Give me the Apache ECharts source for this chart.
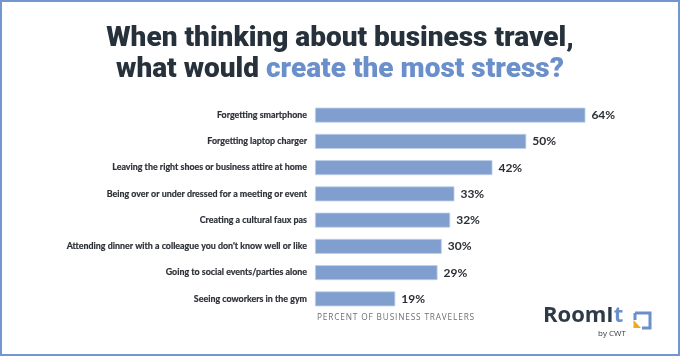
<!DOCTYPE html>
<html><head><meta charset="utf-8">
<script src="https://cdn.jsdelivr.net/npm/echarts@6/dist/echarts.min.js"></script>
<style>html,body{margin:0;padding:0;background:#fff}#c{width:680px;height:356px}</style>
</head><body><div id="c"></div>
<script>
const categories = [
  "Forgetting smartphone",
  "Forgetting laptop charger",
  "Leaving the right shoes or business attire at home",
  "Being over or under dressed for a meeting or event",
  "Creating a cultural faux pas",
  "Attending dinner with a colleague you don't know well or like",
  "Going to social events/parties alone",
  "Seeing coworkers in the gym"
];
const values = [64, 50, 42, 33, 32, 30, 29, 19];
const titleLine1 = "When thinking about business travel,";
const titleLine2a = "what would ";
const titleLine2b = "create the most stress?";
const axisTitle = "PERCENT OF BUSINESS TRAVELERS";

const chart = echarts.init(document.getElementById('c'), null, {renderer: 'canvas'});
const dark = '#26313c';
const blue = '#6a8fca';
const tfont = '900 28px Roboto';
chart.setOption({
  animation: false,
  backgroundColor: '#fff',
  grid: {left: 315, right: 27, top: 102, bottom: 44, containLabel: false},
  xAxis: {type: 'value', min: 0, max: 80, show: false},
  yAxis: {
    type: 'category', data: categories, inverse: true,
    axisLine: {show: false}, axisTick: {show: false},
    axisLabel: {color: '#2b2f35', fontFamily: 'Lato', fontWeight: 'bold', fontSize: 8.9, margin: 8,
      textBorderColor: '#2b2f35', textBorderWidth: 0.2}
  },
  series: [{
    type: 'bar', data: values, barCategoryGap: '43%',
    itemStyle: {color: '#809fcf', borderColor: '#bcd0ea', borderWidth: 0.8},
    label: {show: true, position: 'right', distance: 6, formatter: '{c}%',
      color: '#2b2f35', fontFamily: 'Lato', fontWeight: 'bold', fontSize: 12}
  }],
  graphic: [
    {type: 'rect', shape: {x: 1, y: 1, width: 678, height: 354}, style: {fill: 'none', stroke: '#7396d0', lineWidth: 2}},
    {type: 'text', left: 'center', top: 25, style: {text: titleLine1, font: tfont, fill: dark}},
    {type: 'text', left: 'center', top: 56, style: {rich: {a: {font: tfont, fill: dark}, b: {font: tfont, fill: blue}},
        text: '{a|' + titleLine2a + '}{b|' + titleLine2b + '}'}},
    {type: 'text', left: 317, top: 314, style: {text: axisTitle.split('').join('\u200A'), font: '8.3px "Open Sans"', fill: '#6b6f75'}},
    {type: 'text', left: 543, top: 305, style: {rich: {a: {font: 'bold 22px "Open Sans"', fill: '#2e3a47'}, b: {font: 'bold 22px "Open Sans"', fill: blue}}, text: '{a|RoomI}{b|t}'}},
    {type: 'text', left: 598, top: 330, style: {text: 'by CWT', font: '8px "Open Sans"', fill: '#2e3a47'}},
    {type: 'polyline', shape: {points: [[635, 313], [650, 313], [650, 328], [642, 328]]}, style: {stroke: blue, lineWidth: 3, fill: 'none'}},
    {type: 'polyline', shape: {points: [[635, 313], [635, 320]]}, style: {stroke: blue, lineWidth: 3, fill: 'none'}},
    {type: 'polygon', shape: {points: [[633.5, 320], [641, 328], [633.5, 328]]}, style: {fill: '#f2a81d'}}
  ]
});
</script></body></html>
